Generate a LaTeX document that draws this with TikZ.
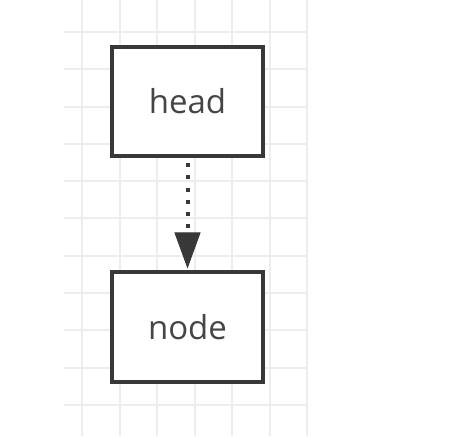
\documentclass[tikz,border=0pt]{standalone}
\usepackage{fontspec}
\setmainfont{Open Sans}
\usetikzlibrary{arrows.meta}
\definecolor{gridgray}{HTML}{EDEDED}
\definecolor{boxgray}{HTML}{383838}
\definecolor{textgray}{HTML}{454545}

\begin{document}
\begin{tikzpicture}[x=1pt, y=-1pt, node distance=225.5pt, thick]
    \useasboundingbox (0,0) rectangle (466,438);
    \fill[white] (0,0) rectangle (466,438);
    \foreach \gx in {0,...,6}
        \draw[gridgray, line width=2pt] (82+37.5*\gx, 0) -- (82+37.5*\gx, 436);
    \foreach \gy in {0,...,10}
        \draw[gridgray, line width=2pt] (64, 32+37.3*\gy) -- (307, 32+37.3*\gy);
    \node at (187.5, 101.5) (head) [shape=rectangle, draw=boxgray, fill=white, line width=4pt,
        minimum width=151pt, minimum height=109pt, inner sep=0pt, text=textgray,
        font=\fontsize{33}{39}\selectfont] {head};
    \node[below of=head, shape=rectangle, draw=boxgray, fill=white, line width=4pt,
        minimum width=151pt, minimum height=109pt, inner sep=0pt, text=textgray,
        font=\fontsize{33}{39}\selectfont] (next) {node};
    \draw[-{Triangle[width=26pt, length=36pt, line width=1pt]}, boxgray, line width=4pt,
        dash pattern=on 4pt off 8.3pt, dash phase=7.3pt, shorten >=2pt] (head) -- (next);
\end{tikzpicture}
\end{document}
